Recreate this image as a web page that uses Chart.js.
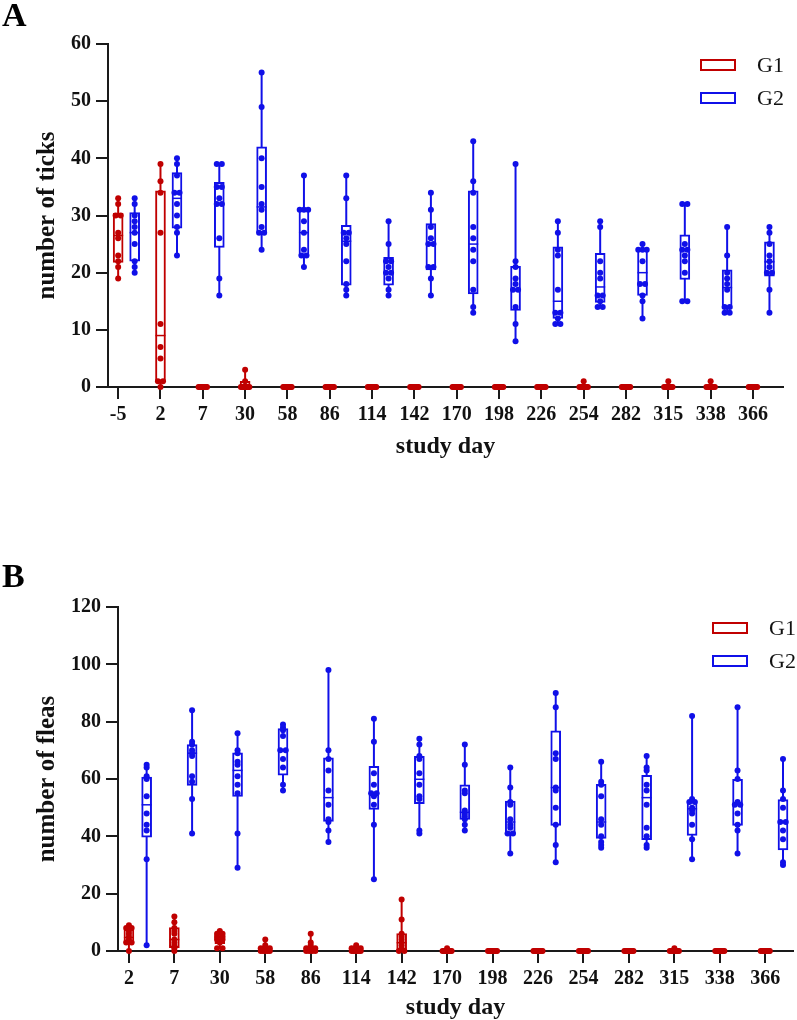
<!DOCTYPE html>
<html>
<head>
<meta charset="utf-8">
<script src="https://cdn.jsdelivr.net/npm/chart.js@4.4.0/dist/chart.umd.min.js"></script>
<style>
  body { margin: 0; background: #fff; }
  .wrap { position: relative; width: 797px; height: 1020px; }
  canvas { position: absolute; left: 0; }
  .letter { position: absolute; left: 2px; font: bold 34px/34px "Liberation Serif", serif; color: #000; }
</style>
</head>
<body>
<div class="wrap">
  <canvas id="ticksChart" width="797" height="520" style="top:0"></canvas>
  <canvas id="fleasChart" width="797" height="500" style="top:520px"></canvas>
  <div class="letter" style="top:-2px">A</div>
  <div class="letter" style="top:559px">B</div>
</div>
<script>
// ---- panel A : ticks ----
const ticksDays = ["-5", "2", "7", "30", "58", "86", "114", "142", "170", "198", "226", "254", "282", "315", "338", "366"];

const ticksG1 = [
  [33, 32, 30, 30, 27, 26, 23, 22, 21, 19],
  [39, 36, 34, 27, 11, 7, 5, 1, 1, 0],
  [0, 0, 0, 0, 0, 0, 0, 0, 0, 0],
  [3, 1, 0, 0, 0, 0, 0, 0, 0, 0],
  [0, 0, 0, 0, 0, 0, 0, 0, 0, 0],
  [0, 0, 0, 0, 0, 0, 0, 0, 0, 0],
  [0, 0, 0, 0, 0, 0, 0, 0, 0, 0],
  [0, 0, 0, 0, 0, 0, 0, 0, 0, 0],
  [0, 0, 0, 0, 0, 0, 0, 0, 0, 0],
  [0, 0, 0, 0, 0, 0, 0, 0, 0, 0],
  [0, 0, 0, 0, 0, 0, 0, 0, 0, 0],
  [1, 0, 0, 0, 0, 0, 0, 0, 0, 0],
  [0, 0, 0, 0, 0, 0, 0, 0, 0, 0],
  [1, 0, 0, 0, 0, 0, 0, 0, 0, 0],
  [1, 0, 0, 0, 0, 0, 0, 0, 0, 0],
  [0, 0, 0, 0, 0, 0, 0, 0, 0, 0],
];
// [q1, median, q3]
const ticksG1Box = [
  [21.8, 26.5, 30.4], [1, 9, 34.3], [0, 0, 0], [0, 0, 1], [0, 0, 0], [0, 0, 0],
  [0, 0, 0], [0, 0, 0], [0, 0, 0], [0, 0, 0], [0, 0, 0], [0, 0, 0],
  [0, 0, 0], [0, 0, 0], [0, 0, 0], [0, 0, 0],
];

const ticksG2 = [
  [33, 32, 30, 29, 28, 27, 25, 22, 21, 20],
  [40, 39, 37, 34, 34, 32, 30, 28, 27, 23],
  [39, 39, 35, 35, 33, 32, 32, 26, 19, 16],
  [55, 49, 40, 35, 32, 31, 28, 27, 27, 24],
  [37, 31, 31, 31, 29, 27, 24, 23, 23, 21],
  [37, 33, 27, 27, 26, 25, 22, 18, 17, 16],
  [29, 25, 22, 22, 21, 20, 20, 19, 17, 16],
  [34, 31, 28, 26, 25, 25, 21, 21, 19, 16],
  [43, 36, 34, 28, 26, 24, 22, 17, 14, 13],
  [39, 22, 21, 19, 18, 17, 17, 14, 11, 8],
  [29, 27, 24, 23, 17, 13, 13, 12, 11, 11],
  [29, 28, 22, 20, 19, 16, 16, 15, 14, 14],
  [25, 24, 24, 24, 22, 18, 18, 16, 15, 12],
  [32, 32, 25, 24, 24, 23, 22, 20, 15, 15],
  [28, 23, 20, 19, 18, 17, 14, 14, 13, 13],
  [28, 27, 25, 23, 22, 21, 20, 20, 17, 13],
];
const ticksG2Box = [
  [22, 27, 30.5], [27.8, 33, 37.5], [24.4, 32, 35.8], [27, 31.5, 42],
  [23, 27, 31.1], [17.8, 25.5, 28.3], [17.8, 20, 22.7], [20.5, 25, 28.6],
  [16.3, 25, 34.3], [13.4, 17, 21.1], [12, 15, 24.5], [14.8, 17.5, 23.4],
  [16, 20, 24.2], [18.8, 24, 26.6], [13.7, 17.4, 20.5], [19.4, 21.9, 25.4],
];

// ---- panel B : fleas ----
const fleasDays = ["2", "7", "30", "58", "86", "114", "142", "170", "198", "226", "254", "282", "315", "338", "366"];

const fleasG1 = [
  [9, 8, 8, 7, 6, 5, 4, 3, 3, 0],
  [12, 10, 8, 7, 6, 4, 3, 2, 1, 0],
  [7, 6, 6, 5, 5, 4, 4, 3, 1, 1],
  [4, 2, 1, 1, 1, 0, 0, 0, 0, 0],
  [6, 3, 2, 1, 1, 1, 0, 0, 0, 0],
  [2, 1, 1, 1, 0, 0, 0, 0, 0, 0],
  [18, 11, 6, 5, 4, 3, 2, 1, 0, 0],
  [1, 0, 0, 0, 0, 0, 0, 0, 0, 0],
  [0, 0, 0, 0, 0, 0, 0, 0, 0, 0],
  [0, 0, 0, 0, 0, 0, 0, 0, 0, 0],
  [0, 0, 0, 0, 0, 0, 0, 0, 0, 0],
  [0, 0, 0, 0, 0, 0, 0, 0, 0, 0],
  [1, 0, 0, 0, 0, 0, 0, 0, 0, 0],
  [0, 0, 0, 0, 0, 0, 0, 0, 0, 0],
  [0, 0, 0, 0, 0, 0, 0, 0, 0, 0],
];
const fleasG1Box = [
  [2.9, 4.7, 7.6], [1.2, 4, 8.2], [2.6, 4.7, 6], [0, 0.5, 1.5], [0, 1, 1.5],
  [0, 0, 1], [0, 2.9, 6.1], [0, 0, 0], [0, 0, 0], [0, 0, 0],
  [0, 0, 0], [0, 0, 0], [0, 0, 0], [0, 0, 0], [0, 0, 0],
];

const fleasG2 = [
  [65, 64, 61, 60, 54, 48, 44, 42, 32, 2],
  [84, 73, 72, 70, 69, 68, 61, 59, 53, 41],
  [76, 70, 69, 66, 65, 61, 58, 55, 41, 29],
  [79, 78, 77, 75, 70, 70, 67, 64, 58, 56],
  [98, 70, 67, 63, 56, 51, 46, 45, 42, 38],
  [81, 73, 62, 58, 55, 55, 54, 51, 44, 25],
  [74, 72, 68, 67, 62, 58, 54, 53, 42, 41],
  [72, 65, 56, 55, 49, 48, 47, 46, 44, 42],
  [64, 57, 52, 51, 46, 44, 43, 41, 41, 34],
  [90, 85, 69, 67, 57, 56, 50, 44, 37, 31],
  [66, 59, 58, 54, 46, 44, 40, 38, 37, 36],
  [68, 64, 63, 58, 56, 51, 43, 40, 37, 36],
  [82, 53, 52, 52, 50, 49, 48, 44, 39, 32],
  [85, 63, 60, 52, 51, 51, 48, 44, 42, 34],
  [67, 56, 53, 50, 45, 45, 42, 39, 31, 30],
];
const fleasG2Box = [
  [39.7, 51, 60.7], [57.8, 69, 72], [53.9, 63, 69.1], [61.3, 70, 77.6], [45.2, 53.5, 67.4],
  [49.4, 54.9, 64.4], [51.4, 59.9, 67.9], [45.9, 48.4, 58], [41.1, 45, 52.3], [43.8, 57, 76.8],
  [39.3, 45, 58.1], [38.8, 53.5, 61.3], [40.3, 49.6, 52.3], [43.8, 51, 59.9], [35.3, 45, 52.8],
];

const RED = "#c00000";
const BLUE = "#1010e8";
const AXIS = "#1a1a1a";
const FONT = '"Liberation Serif", "Times New Roman", serif';
const G2_SHIFT = 0.39;

Chart.defaults.font.family = FONT;
Chart.defaults.color = "#111";

// spread equal values sideways so they sit next to each other, like the original
function dotPoints(groups, shift) {
  const pts = [];
  groups.forEach((vals, i) => {
    const counts = {};
    vals.forEach((v) => (counts[v] = (counts[v] || 0) + 1));
    Object.keys(counts).forEach((k) => {
      const n = counts[k];
      const step = n > 1 ? Math.min(0.12, 0.2 / (n - 1)) : 0;
      for (let m = 0; m < n; m++) {
        pts.push({ x: i + shift + (m - (n - 1) / 2) * step, y: +k });
      }
    });
  });
  return pts;
}

const boxWhisker = {
  id: "boxWhisker",
  beforeDatasetsDraw(chart) {
    const { ctx, scales } = chart;
    chart.data.datasets.forEach((ds, di) => {
      if (!ds.whisker) return;
      const meta = chart.getDatasetMeta(di);
      ctx.save();
      ctx.strokeStyle = ds.borderColor;
      ctx.lineWidth = 2;
      ds.whisker.forEach((vals, j) => {
        const px = meta.data[j].x;
        ctx.beginPath();
        ctx.moveTo(px, scales.y.getPixelForValue(Math.min(...vals)));
        ctx.lineTo(px, scales.y.getPixelForValue(Math.max(...vals)));
        ctx.stroke();
      });
      ctx.restore();
    });
  },
  afterDatasetDraw(chart, args) {
    const ds = chart.data.datasets[args.index];
    if (!ds.whisker) return;
    const { ctx, scales } = chart;
    const meta = chart.getDatasetMeta(args.index);
    ctx.save();
    ctx.strokeStyle = ds.borderColor;
    ctx.lineWidth = 1.5;
    ds.medians.forEach((m, j) => {
      const el = meta.data[j];
      const py = scales.y.getPixelForValue(m);
      ctx.beginPath();
      ctx.moveTo(el.x - el.width / 2, py);
      ctx.lineTo(el.x + el.width / 2, py);
      ctx.stroke();
    });
    ctx.restore();
  },
  afterDraw(chart, args, opts) {
    const { ctx } = chart;
    chart.data.datasets.filter((d) => d.whisker).forEach((ds, k) => {
      const top = opts.y + k * opts.gap;
      ctx.save();
      ctx.strokeStyle = ds.borderColor;
      ctx.lineWidth = 2;
      ctx.strokeRect(opts.x, top, 34, 10);
      ctx.fillStyle = "#111";
      ctx.font = "22px " + FONT;
      ctx.textBaseline = "middle";
      ctx.fillText(ds.label, opts.textX, top + 6);
      ctx.restore();
    });
  },
};

function drawPanel(id, cfg) {
  const boxSet = (label, color, box, dots, shift) => ({
    type: "bar",
    label: label,
    data: box.map((b, i) => ({ x: i + shift, y: [b[0], b[2]] })),
    medians: box.map((b) => b[1]),
    whisker: dots,
    borderColor: color,
    backgroundColor: "#ffffff",
    borderWidth: 2,
    borderSkipped: false,
    grouped: false,
    maxBarThickness: 10,
    barPercentage: 1,
    categoryPercentage: 1,
    order: 2,
  });
  const dotSet = (label, color, dots, shift) => ({
    type: "scatter",
    label: label,
    data: dotPoints(dots, shift),
    backgroundColor: color,
    borderColor: color,
    pointRadius: 3,
    pointBorderWidth: 0,
    clip: false,
    order: 1,
  });

  new Chart(document.getElementById(id), {
    type: "bar",
    data: {
      datasets: [
        boxSet("G1", RED, cfg.g1Box, cfg.g1, 0),
        boxSet("G2", BLUE, cfg.g2Box, cfg.g2, G2_SHIFT),
        dotSet("G1 dots", RED, cfg.g1, 0),
        dotSet("G2 dots", BLUE, cfg.g2, G2_SHIFT),
      ],
    },
    options: {
      responsive: false,
      animation: false,
      layout: { padding: cfg.padding },
      plugins: {
        legend: { display: false },
        tooltip: { enabled: false },
        boxWhisker: cfg.legend,
      },
      scales: {
        x: {
          type: "linear",
          offset: false,
          min: -0.24,
          max: cfg.xMax,
          afterBuildTicks: (scale) => {
            scale.ticks = cfg.days.map((d, i) => ({ value: i }));
          },
          afterFit: (scale) => {
            scale.height = cfg.xHeight;
          },
          ticks: {
            autoSkip: false,
            maxRotation: 0,
            padding: 4,
            color: "#111",
            font: { size: 20, weight: "bold" },
            callback: (v) => cfg.days[v],
          },
          grid: { offset: false, drawOnChartArea: false, tickLength: 12, lineWidth: 2, color: AXIS },
          border: { color: AXIS, width: 2 },
          title: {
            display: true,
            text: "study day",
            color: "#111",
            font: { size: 24, weight: "bold", lineHeight: 1 },
            padding: 0,
          },
        },
        y: {
          min: 0,
          max: cfg.yMax,
          afterFit: (scale) => {
            scale.width = cfg.yWidth;
          },
          ticks: {
            stepSize: cfg.yStep,
            padding: 5,
            color: "#111",
            font: { size: 20, weight: "bold" },
          },
          grid: { drawOnChartArea: false, tickLength: 12, lineWidth: 2, color: AXIS },
          border: { color: AXIS, width: 2 },
          title: {
            display: true,
            text: cfg.yTitle,
            color: "#111",
            font: { size: 25, weight: "bold", lineHeight: 1 },
            padding: { top: 35, bottom: 0 },
          },
        },
      },
    },
    plugins: [boxWhisker],
  });
}

drawPanel("ticksChart", {
  days: ticksDays,
  g1: ticksG1, g1Box: ticksG1Box,
  g2: ticksG2, g2Box: ticksG2Box,
  yTitle: "number of ticks",
  yMax: 60, yStep: 10,
  xMax: 15.71,
  yWidth: 108, xHeight: 72,
  padding: { top: 44, right: 14, bottom: 61, left: 0 },
  legend: { x: 701, y: 60, gap: 33, textX: 757 },
});

drawPanel("fleasChart", {
  days: fleasDays,
  g1: fleasG1, g1Box: fleasG1Box,
  g2: fleasG2, g2Box: fleasG2Box,
  yTitle: "number of fleas",
  yMax: 120, yStep: 20,
  xMax: 14.61,
  yWidth: 118, xHeight: 69,
  padding: { top: 87, right: 2, bottom: 0, left: 0 },
  legend: { x: 713, y: 103, gap: 33, textX: 769 },
});
</script>
</body>
</html>
